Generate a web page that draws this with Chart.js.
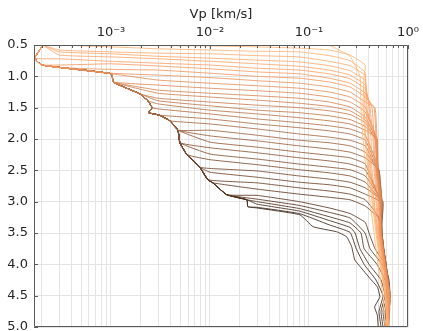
<!DOCTYPE html>
<html>
<head>
<meta charset="utf-8">
<script src="https://cdn.jsdelivr.net/npm/chart.js@4.4.1/dist/chart.umd.min.js"></script>
<style>
html, body { margin: 0; padding: 0; background: #fff; }
</style>
</head>
<body>
<canvas id="chartCanvas" width="423" height="331"></canvas>
<script>
// left boundary shared by all profiles (darkest curve), Vp in km/s vs depth
const envVp = [2.05e-4, 1.7e-4, 2.0e-4, 1.02e-3, 1.05e-3, 1.96e-3, 2.36e-3, 2.6e-3, 2.4e-3, 3.1e-3, 3.94e-3,
  4.75e-3, 4.97e-3, 5.85e-3, 7.9e-3, 9.5e-3, 0.0107, 0.0148, 0.0236, 0.0241, 0.0297, 0.081, 0.11, 0.19,
  0.24, 0.27, 0.29, 0.33, 0.41, 0.49, 0.52, 0.46, 0.49, 0.50];
const envDepth = [0.5, 0.71, 0.82, 0.96, 1.09, 1.28, 1.39, 1.5, 1.58, 1.62, 1.71, 1.86, 2.06, 2.25, 2.45,
  2.65, 2.7, 2.89, 2.97, 3.08, 3.1, 3.21, 3.4, 3.48, 3.56, 3.72, 3.93, 4.04, 4.22, 4.36, 4.52, 4.68, 4.81, 5.0];

// how many boundary points each profile follows before it leaves
const follow = [0, 0, 0, 1, 1, 1, 2, 3, 3, 3, 4, 5, 5, 5, 6, 6, 7, 8, 10, 11, 12, 12, 12, 13, 13, 14,
  15, 15, 16, 17, 18, 18, 19, 19, 20];

// depth where each profile crosses these Vp values
const vpCols = [3e-4, 1e-3, 3e-3, 0.01, 0.03, 0.08, 0.16, 0.26, 0.37];
const crossDepth = [
  [null, null, null, null, null, null, 0.5, 0.68, null],
  [null, 0.5, 0.51, 0.515, 0.53, 0.55, 0.58, 0.66, 0.82],
  [0.5, 0.53, 0.56, 0.58, 0.6, 0.61, 0.67, 0.75, 0.94],
  [0.58, 0.61, 0.63, 0.64, 0.67, 0.69, 0.76, 0.83, 0.99],
  [0.61, 0.64, 0.68, 0.71, 0.74, 0.77, 0.83, 0.91, 1.07],
  [0.66, 0.69, 0.72, 0.76, 0.80, 0.84, 0.90, 0.98, 1.14],
  [0.72, 0.76, 0.79, 0.82, 0.87, 0.90, 0.96, 1.04, 1.20],
  [null, 0.80, 0.835, 0.88, 0.93, 0.96, 1.03, 1.11, 1.27],
  [0.86, 0.89, 0.90, 0.95, 1.0, 1.03, 1.09, 1.17, 1.33],
  [null, 0.95, 0.98, 1.02, 1.07, 1.11, 1.17, 1.25, 1.41],
  [null, null, 1.06, 1.11, 1.15, 1.19, 1.25, 1.33, 1.49],
  [null, null, 1.14, 1.19, 1.23, 1.27, 1.33, 1.41, 1.57],
  [null, null, 1.22, 1.27, 1.31, 1.35, 1.41, 1.49, 1.65],
  [null, null, 1.27, 1.33, 1.38, 1.43, 1.48, 1.55, 1.70],
  [null, null, 1.35, 1.41, 1.46, 1.50, 1.55, 1.61, 1.74],
  [null, null, 1.39, 1.47, 1.54, 1.58, 1.63, 1.69, 1.80],
  [null, null, 1.44, 1.54, 1.60, 1.66, 1.71, 1.76, 1.86],
  [null, null, 1.52, 1.60, 1.68, 1.74, 1.79, 1.84, 1.94],
  [null, null, null, 1.68, 1.76, 1.82, 1.87, 1.92, 2.02],
  [null, null, null, 1.76, 1.84, 1.92, 1.97, 2.02, 2.11],
  [null, null, null, 1.86, 1.94, 2.02, 2.06, 2.11, 2.21],
  [null, null, null, 1.95, 2.03, 2.11, 2.16, 2.21, 2.30],
  [null, null, null, 2.05, 2.13, 2.21, 2.26, 2.30, 2.40],
  [null, null, null, 2.14, 2.22, 2.30, 2.35, 2.40, 2.49],
  [null, null, null, 2.24, 2.32, 2.40, 2.45, 2.49, 2.59],
  [null, null, null, 2.33, 2.41, 2.49, 2.54, 2.59, 2.69],
  [null, null, null, 2.47, 2.51, 2.59, 2.64, 2.69, 2.78],
  [null, null, null, 2.53, 2.61, 2.69, 2.73, 2.78, 2.88],
  [null, null, null, null, 2.70, 2.78, 2.83, 2.88, 2.97],
  [null, null, null, null, 2.80, 2.88, 2.93, 2.97, 3.07],
  [null, null, null, null, 2.90, 3.0, 3.10, 3.19, 3.33],
  [null, null, null, null, 2.96, 3.06, 3.17, 3.26, null],
  [null, null, null, null, 3.0, 3.11, 3.24, 3.34, null],
  [null, null, null, null, 3.04, 3.15, 3.30, 3.41, null],
  [null, null, null, null, 3.09, 3.19, 3.37, 3.49, null]
];

// Vp of each profile once it runs down the right side
const wallDepths = [1, 1.5, 2, 2.5, 3, 3.25, 3.5, 3.75, 4, 4.25, 4.5, 4.75, 5];
const wallVp = [
  [0.327, 0.335, 0.351, 0.377, 0.413, null, 0.454, null, 0.498, null, 0.559, null, 0.586],
  [0.36, 0.351, 0.368, 0.395, 0.433, null, 0.475, null, 0.522, null, 0.586, null, 0.628],
  [null, 0.36, 0.377, 0.404, 0.443, null, 0.486, null, 0.534, null, 0.586, null, 0.614],
  [null, 0.377, 0.395, 0.413, 0.454, null, 0.486, null, 0.534, null, 0.60, null, 0.643],
  [null, 0.386, 0.404, 0.423, 0.454, null, 0.498, null, 0.546, null, 0.60, null, 0.628],
  [null, 0.404, 0.423, 0.433, 0.475, null, 0.498, null, 0.559, null, 0.614, null, 0.614],
  [null, 0.413, 0.443, 0.454, 0.486, null, 0.51, null, 0.559, null, 0.628, null, 0.60],
  [null, 0.433, 0.454, 0.464, 0.498, null, 0.522, null, 0.572, null, 0.628, null, 0.628],
  [null, 0.454, 0.475, 0.475, 0.51, null, 0.534, null, 0.586, null, 0.643, null, 0.614],
  [null, 0.464, 0.486, 0.486, 0.522, null, 0.522, null, 0.572, null, 0.658, null, 0.628],
  [null, null, 0.475, 0.498, 0.534, null, 0.51, null, 0.586, null, 0.643, null, 0.60],
  [null, null, 0.486, 0.475, 0.522, null, 0.534, null, 0.572, null, 0.628, null, 0.614],
  [null, null, 0.475, 0.486, 0.534, null, 0.522, null, 0.586, null, 0.658, null, 0.628],
  [null, null, 0.486, 0.498, 0.534, null, 0.522, null, 0.572, null, 0.643, null, 0.614],
  [null, null, 0.464, 0.486, 0.546, null, 0.534, null, 0.60, null, 0.658, null, 0.643],
  [null, null, 0.475, 0.498, 0.522, null, 0.546, null, 0.586, null, 0.628, null, 0.60],
  [null, null, 0.486, 0.486, 0.534, null, 0.522, null, 0.572, null, 0.628, null, 0.614],
  [null, null, null, 0.51, 0.546, null, 0.534, null, 0.586, null, 0.643, null, 0.628],
  [null, null, null, 0.498, 0.534, null, 0.522, null, 0.586, null, 0.658, null, 0.614],
  [null, null, null, 0.486, 0.522, null, 0.534, null, 0.60, null, 0.643, null, 0.628],
  [null, null, null, 0.498, 0.546, null, 0.522, null, 0.586, null, 0.643, null, 0.60],
  [null, null, null, 0.51, 0.534, null, 0.534, null, 0.572, null, 0.628, null, 0.614],
  [null, null, null, null, 0.522, null, 0.546, null, 0.60, null, 0.658, null, 0.628],
  [null, null, null, null, 0.534, null, 0.522, null, 0.586, null, 0.643, null, 0.614],
  [null, null, null, null, 0.546, null, 0.534, null, 0.60, null, 0.643, null, 0.60],
  [null, null, null, null, 0.534, null, 0.546, null, 0.586, null, 0.628, null, 0.614],
  [null, null, null, null, 0.559, null, 0.534, null, 0.60, null, 0.658, null, 0.628],
  [null, null, null, null, 0.522, null, 0.546, null, 0.586, null, 0.643, null, 0.614],
  [null, null, null, null, null, 0.51, 0.534, null, 0.60, null, 0.628, null, 0.60],
  [null, null, null, null, null, 0.498, 0.546, null, 0.586, null, 0.643, null, 0.614],
  [null, null, null, null, null, null, 0.404, 0.464, 0.586, 0.643, 0.658, 0.60, 0.628],
  [null, null, null, null, null, null, 0.368, 0.413, 0.546, 0.628, 0.643, 0.586, 0.614],
  [null, null, null, null, null, null, 0.335, 0.36, 0.486, 0.586, 0.614, 0.559, 0.586],
  [null, null, null, null, null, null, 0.292, 0.327, 0.404, 0.534, 0.586, 0.534, 0.559],
  [null, null, null, null, null, null, null, 0.30, 0.36, 0.475, 0.559, 0.51, 0.534]
];

const majorTicks = [1e-3, 1e-2, 1e-1, 1];
const tickLabels = ['10\u207B\u00B3', '10\u207B\u00B2', '10\u207B\u00B9', '10\u2070'];
const xMin = 1.67e-4;

const nLines = follow.length + 1;

// copper colormap, light (first) to dark (last)
function copper(k) {
  const t = 0.93 - 0.75 * k / (nLines - 1);
  const r = Math.round(255 * Math.min(1, 1.25 * t));
  const g = Math.round(255 * 0.7812 * t);
  const b = Math.round(255 * 0.4975 * t);
  return 'rgba(' + r + ',' + g + ',' + b + ',0.85)';
}

const datasets = [];
for (let k = 0; k < nLines; k++) {
  const pts = [];
  const n = k < follow.length ? follow[k] : envVp.length;
  for (let i = 0; i < n; i++) pts.push({x: envVp[i], y: envDepth[i]});
  if (k < follow.length) {
    crossDepth[k].forEach((d, j) => { if (d !== null) pts.push({x: vpCols[j], y: d}); });
    wallVp[k].forEach((v, j) => { if (v !== null) pts.push({x: v, y: wallDepths[j]}); });
  }
  datasets.push({
    data: pts,
    borderColor: copper(k),
    borderWidth: 1,
    pointRadius: 0,
    showLine: true,
    tension: 0.12,
    fill: false
  });
}

const gridTicks = [];
for (let e = -4; e < 0; e++) {
  for (let m = 1; m < 10; m++) {
    const v = m * Math.pow(10, e);
    if (v > xMin) gridTicks.push(v);
  }
}
gridTicks.push(1);

function majorIndex(v) {
  return majorTicks.findIndex(t => Math.abs(Math.log10(t) - Math.log10(v)) < 1e-6);
}

const frame = {
  id: 'frame',
  afterDraw: (chart) => {
    const c = chart.ctx;
    const a = chart.chartArea;
    c.save();
    c.strokeStyle = '#5a5a5a';
    c.lineWidth = 1;
    c.beginPath();
    c.rect(Math.round(a.left) + 0.5, Math.round(a.top) + 0.5, Math.round(a.right - a.left) - 1, Math.round(a.bottom - a.top) - 1);
    c.stroke();
    c.beginPath();
    gridTicks.forEach(v => {
      const px = Math.round(chart.scales.x.getPixelForValue(v)) + 0.5;
      const len = majorIndex(v) >= 0 ? 4 : 3;
      c.moveTo(px, a.top);
      c.lineTo(px, a.top + len);
    });
    for (let d = 0.5; d <= 5; d += 0.5) {
      const py = Math.round(chart.scales.y.getPixelForValue(d)) + 0.5;
      c.moveTo(a.left, py);
      c.lineTo(a.left + 4, py);
    }
    c.stroke();
    c.restore();
  }
};

new Chart(document.getElementById('chartCanvas').getContext('2d'), {
  type: 'scatter',
  data: {datasets: datasets},
  options: {
    responsive: false,
    animation: false,
    layout: {padding: {left: 0, right: 15, top: 0, bottom: 4}},
    plugins: {legend: {display: false}, tooltip: {enabled: false}},
    scales: {
      x: {
        type: 'logarithmic',
        position: 'top',
        min: xMin,
        max: 1,
        afterBuildTicks: (axis) => { axis.ticks = gridTicks.map(v => ({value: v, major: majorIndex(v) >= 0})); },
        afterFit: (scale) => { scale.height = 45; scale.paddingLeft = 0; scale.paddingRight = 0; },
        grid: {color: '#e4e4e4', drawTicks: false},
        border: {display: false},
        ticks: {
          autoSkip: false,
          maxRotation: 0,
          padding: 5,
          color: '#262626',
          font: {family: 'DejaVu Sans', size: 13},
          callback: (v) => { const i = majorIndex(v); return i >= 0 ? tickLabels[i] : ''; }
        },
        title: {
          display: true,
          text: 'Vp [km/s]',
          color: '#262626',
          font: {family: 'DejaVu Sans', size: 13},
          padding: {top: 7, bottom: 0}
        }
      },
      y: {
        type: 'linear',
        reverse: true,
        min: 0.5,
        max: 5,
        afterFit: (scale) => { scale.width = 34; scale.paddingTop = 0; scale.paddingBottom = 0; },
        grid: {color: '#e4e4e4', drawTicks: false},
        border: {display: false},
        ticks: {
          stepSize: 0.5,
          padding: 6,
          color: '#262626',
          font: {family: 'DejaVu Sans', size: 13}
        }
      }
    }
  },
  plugins: [frame]
});
</script>
</body>
</html>
